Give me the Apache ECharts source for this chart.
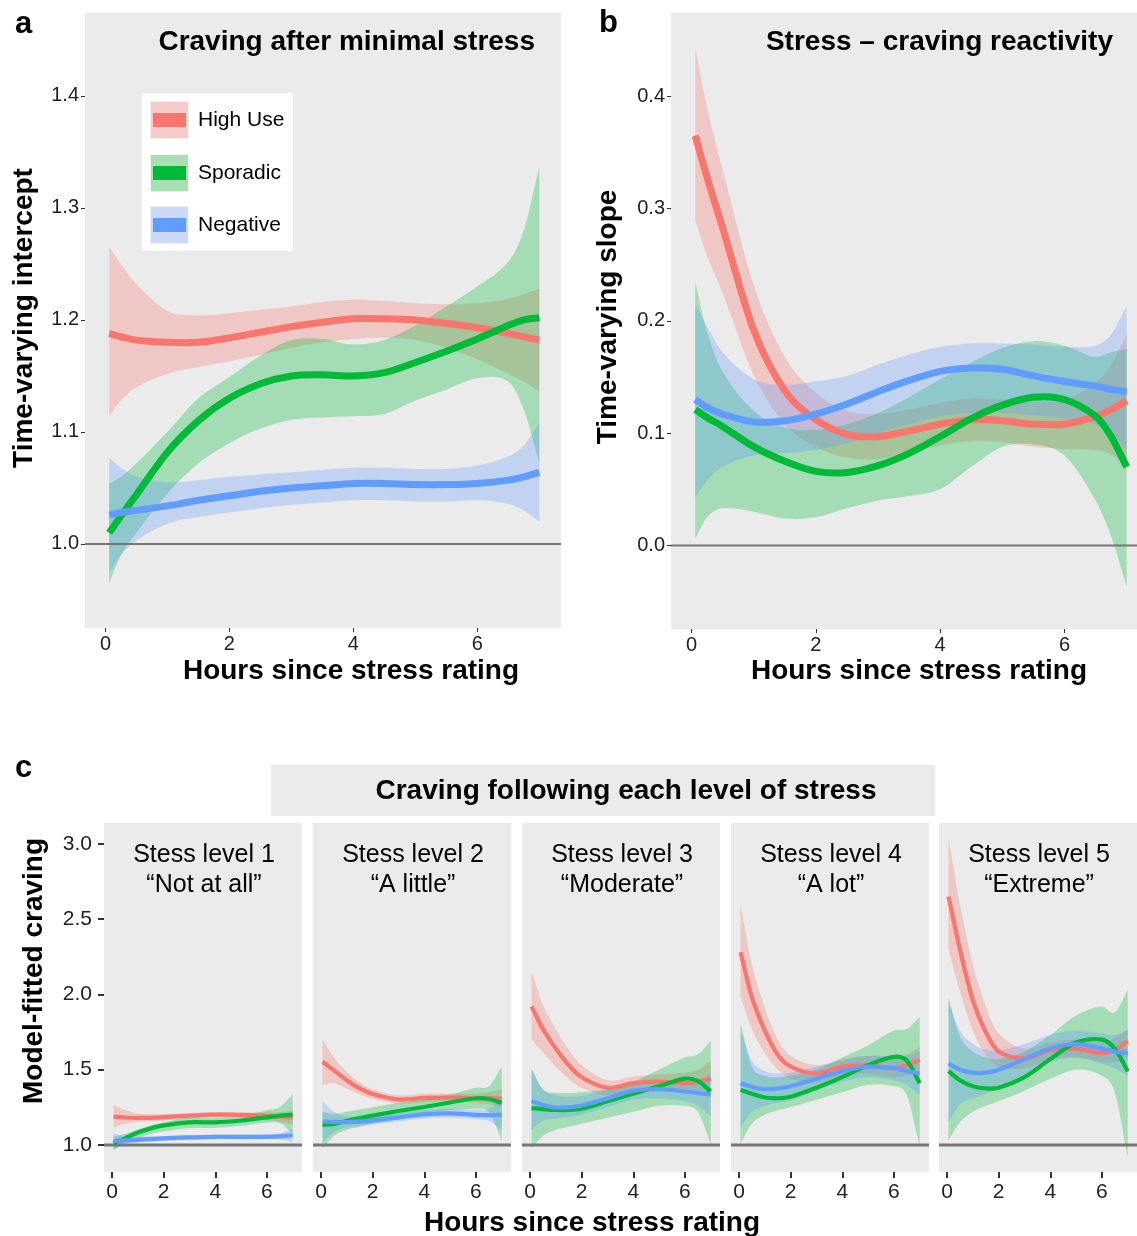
<!DOCTYPE html>
<html><head><meta charset="utf-8">
<script src="https://cdn.jsdelivr.net/npm/echarts@6/dist/echarts.min.js"></script>
<style>html,body{margin:0;padding:0;background:#fff}#c{width:1137px;height:1236px}</style>
</head><body><div id="c"></div>
<script>
const groups = ['High Use', 'Sporadic', 'Negative'];
const colors = ['#F8766D', '#00BA38', '#619CFF'];
const fills = ['rgba(248,118,109,0.3)', 'rgba(0,186,56,0.3)', 'rgba(97,156,255,0.3)'];
const keyFills = ['#F4CDCA', '#A9DFB3', '#C9D9F7'];

const hoursAB = [0.06,0.25,0.5,1,1.5,2,2.5,3,3.5,4,4.5,5,5.5,6,6.5,6.75,7];
const hoursC = [0.06,0.5,1,1.5,2,3,4,5,6,6.5,7];
const hourTicks = [0, 2, 4, 6];
const aTicks = [1.0, 1.1, 1.2, 1.3, 1.4];
const bTicks = [0.0, 0.1, 0.2, 0.3, 0.4];
const cTicks = [1.0, 1.5, 2.0, 2.5, 3.0];

// Panel a: time-varying intercept
const aHighUse   = [1.188,1.185,1.182,1.180,1.180,1.184,1.189,1.194,1.198,1.201,1.201,1.200,1.197,1.193,1.188,1.185,1.182];
const aHighUseLo = [1.114,1.128,1.140,1.152,1.158,1.163,1.169,1.175,1.180,1.183,1.184,1.182,1.175,1.165,1.152,1.145,1.136];
const aHighUseHi = [1.265,1.250,1.232,1.208,1.204,1.206,1.209,1.212,1.216,1.218,1.217,1.215,1.214,1.215,1.219,1.223,1.228];
const aSporadic   = [1.010,1.025,1.044,1.082,1.110,1.130,1.143,1.150,1.151,1.150,1.153,1.162,1.172,1.183,1.195,1.200,1.202];
const aSporadicLo = [0.965,0.990,1.010,1.045,1.072,1.090,1.103,1.111,1.113,1.114,1.116,1.128,1.138,1.148,1.145,1.120,1.072];
const aSporadicHi = [1.054,1.060,1.072,1.100,1.130,1.149,1.168,1.182,1.183,1.178,1.182,1.195,1.212,1.230,1.252,1.280,1.337];
const aNegative   = [1.026,1.028,1.030,1.034,1.039,1.043,1.047,1.050,1.052,1.054,1.054,1.053,1.053,1.054,1.057,1.060,1.064];
const aNegativeLo = [0.975,0.990,1.003,1.018,1.024,1.028,1.032,1.035,1.037,1.039,1.039,1.038,1.038,1.039,1.036,1.030,1.020];
const aNegativeHi = [1.077,1.068,1.060,1.055,1.057,1.060,1.062,1.064,1.066,1.068,1.068,1.067,1.067,1.070,1.078,1.088,1.108];

// Panel b: time-varying slope
const bHighUse   = [0.365,0.328,0.283,0.192,0.138,0.112,0.099,0.097,0.102,0.108,0.112,0.111,0.108,0.108,0.115,0.121,0.129];
const bHighUseLo = [0.290,0.258,0.225,0.152,0.108,0.088,0.078,0.077,0.083,0.089,0.093,0.092,0.088,0.086,0.085,0.081,0.071];
const bHighUseHi = [0.444,0.390,0.335,0.232,0.168,0.136,0.120,0.117,0.121,0.127,0.131,0.130,0.128,0.130,0.145,0.161,0.188];
const bSporadic   = [0.121,0.114,0.106,0.088,0.075,0.066,0.065,0.071,0.082,0.097,0.113,0.125,0.132,0.130,0.115,0.097,0.070];
const bSporadicLo = [0.006,0.025,0.033,0.030,0.024,0.025,0.033,0.040,0.044,0.050,0.070,0.088,0.090,0.080,0.040,0.008,-0.037];
const bSporadicHi = [0.235,0.190,0.155,0.120,0.105,0.103,0.108,0.118,0.132,0.148,0.163,0.176,0.182,0.178,0.168,0.172,0.175];
const bNegative   = [0.130,0.123,0.117,0.110,0.111,0.117,0.126,0.137,0.147,0.155,0.158,0.157,0.151,0.146,0.142,0.139,0.137];
const bNegativeLo = [0.043,0.058,0.070,0.080,0.082,0.085,0.091,0.100,0.108,0.115,0.118,0.118,0.116,0.113,0.108,0.100,0.085];
const bNegativeHi = [0.215,0.195,0.172,0.148,0.143,0.146,0.151,0.161,0.170,0.177,0.180,0.180,0.179,0.177,0.178,0.188,0.213];

// Panel c: model-fitted craving per stress level
const c1HighUse   = [1.188,1.182,1.180,1.180,1.184,1.194,1.201,1.200,1.193,1.188,1.182];
const c1HighUseLo = [1.114,1.140,1.152,1.158,1.163,1.175,1.183,1.182,1.165,1.152,1.136];
const c1HighUseHi = [1.265,1.232,1.208,1.204,1.206,1.212,1.218,1.215,1.215,1.219,1.228];
const c1Sporadic   = [1.010,1.044,1.082,1.110,1.130,1.150,1.150,1.162,1.183,1.195,1.202];
const c1SporadicLo = [0.965,1.010,1.045,1.072,1.090,1.111,1.114,1.128,1.148,1.145,1.072];
const c1SporadicHi = [1.054,1.072,1.100,1.130,1.149,1.182,1.178,1.195,1.230,1.252,1.337];
const c1Negative   = [1.026,1.030,1.034,1.039,1.043,1.050,1.054,1.053,1.054,1.057,1.064];
const c1NegativeLo = [0.975,1.003,1.018,1.024,1.028,1.035,1.039,1.038,1.039,1.036,1.020];
const c1NegativeHi = [1.077,1.060,1.055,1.057,1.060,1.064,1.068,1.067,1.070,1.078,1.108];

const c2HighUse   = [1.553,1.495,1.430,1.375,1.338,1.302,1.312,1.315,1.310,1.310,1.310];
const c2HighUseLo = [1.400,1.410,1.375,1.335,1.305,1.275,1.285,1.290,1.280,1.270,1.250];
const c2HighUseHi = [1.698,1.580,1.485,1.415,1.370,1.330,1.340,1.342,1.340,1.350,1.370];
const c2Sporadic   = [1.133,1.140,1.160,1.178,1.195,1.225,1.252,1.282,1.310,1.305,1.280];
const c2SporadicLo = [0.980,1.060,1.100,1.120,1.140,1.170,1.200,1.230,1.240,1.220,1.030];
const c2SporadicHi = [1.220,1.205,1.220,1.235,1.250,1.280,1.305,1.335,1.380,1.390,1.520];
const c2Negative   = [1.155,1.153,1.152,1.155,1.163,1.183,1.203,1.210,1.200,1.198,1.200];
const c2NegativeLo = [1.020,1.085,1.115,1.125,1.135,1.155,1.175,1.180,1.170,1.160,1.100];
const c2NegativeHi = [1.290,1.220,1.190,1.190,1.195,1.210,1.230,1.240,1.235,1.240,1.300];

const c3HighUse   = [1.920,1.770,1.640,1.530,1.450,1.380,1.410,1.420,1.410,1.420,1.440];
const c3HighUseLo = [1.700,1.615,1.520,1.440,1.380,1.330,1.360,1.370,1.350,1.350,1.330];
const c3HighUseHi = [2.150,1.930,1.770,1.630,1.530,1.430,1.455,1.470,1.480,1.500,1.560];
const c3Sporadic   = [1.245,1.238,1.232,1.232,1.240,1.290,1.340,1.390,1.440,1.425,1.355];
const c3SporadicLo = [0.980,1.060,1.100,1.120,1.140,1.180,1.220,1.260,1.260,1.220,1.010];
const c3SporadicHi = [1.510,1.370,1.345,1.345,1.350,1.370,1.420,1.500,1.580,1.600,1.690];
const c3Negative   = [1.290,1.265,1.248,1.250,1.262,1.310,1.360,1.370,1.355,1.345,1.335];
const c3NegativeLo = [1.100,1.160,1.175,1.185,1.200,1.250,1.300,1.310,1.290,1.260,1.190];
const c3NegativeHi = [1.500,1.370,1.330,1.320,1.325,1.365,1.410,1.420,1.420,1.430,1.480];

const c4HighUse   = [2.280,1.980,1.760,1.600,1.520,1.475,1.520,1.530,1.510,1.530,1.565];
const c4HighUseLo = [1.985,1.770,1.610,1.500,1.440,1.410,1.460,1.470,1.450,1.460,1.480];
const c4HighUseHi = [2.594,2.200,1.910,1.700,1.590,1.530,1.570,1.590,1.580,1.600,1.650];
const c4Sporadic   = [1.365,1.340,1.315,1.310,1.320,1.380,1.450,1.530,1.585,1.560,1.410];
const c4SporadicLo = [1.010,1.140,1.200,1.230,1.250,1.300,1.350,1.400,1.390,1.330,0.990];
const c4SporadicHi = [1.810,1.520,1.460,1.450,1.460,1.500,1.580,1.660,1.760,1.770,1.850];
const c4Negative   = [1.410,1.385,1.370,1.375,1.390,1.440,1.490,1.520,1.510,1.490,1.475];
const c4NegativeLo = [1.120,1.220,1.260,1.280,1.295,1.360,1.420,1.450,1.430,1.400,1.330];
const c4NegativeHi = [1.750,1.560,1.490,1.475,1.480,1.520,1.560,1.590,1.590,1.590,1.620];

const c5HighUse   = [2.650,2.300,1.960,1.750,1.620,1.575,1.630,1.640,1.610,1.630,1.690];
const c5HighUseLo = [2.300,2.020,1.760,1.600,1.520,1.510,1.570,1.580,1.550,1.550,1.580];
const c5HighUseHi = [3.040,2.600,2.200,1.920,1.740,1.640,1.680,1.700,1.680,1.710,1.770];
const c5Sporadic   = [1.490,1.430,1.390,1.375,1.380,1.450,1.570,1.680,1.700,1.640,1.490];
const c5SporadicLo = [1.030,1.150,1.220,1.260,1.290,1.360,1.440,1.500,1.460,1.350,0.920];
const c5SporadicHi = [1.980,1.720,1.620,1.580,1.570,1.620,1.730,1.860,1.920,1.880,2.030];
const c5Negative   = [1.540,1.500,1.480,1.480,1.500,1.570,1.640,1.670,1.640,1.620,1.610];
const c5NegativeLo = [1.150,1.270,1.310,1.340,1.375,1.470,1.550,1.580,1.540,1.510,1.460];
const c5NegativeHi = [1.950,1.760,1.670,1.630,1.625,1.670,1.730,1.760,1.740,1.730,1.760];

const facetTitles = ['Stess level 1\n\u201cNot at all\u201d', 'Stess level 2\n\u201cA little\u201d',
  'Stess level 3\n\u201cModerate\u201d', 'Stess level 4\n\u201cA lot\u201d', 'Stess level 5\n\u201cExtreme\u201d'];

const FONT = '"Liberation Sans", Arial, Helvetica, sans-serif';

// ---------- layout ----------
const facetLefts = [104, 313, 522, 731, 939];
const grids = [
  {left: 85, top: 13, width: 476, height: 615},
  {left: 671, top: 13, width: 466, height: 616}
].concat(facetLefts.map(l => ({left: l, top: 823, width: 198, height: 349})));
grids.forEach(g => { g.show = true; g.backgroundColor = '#EBEBEB'; g.borderWidth = 0; });

function xAxisCfg(gi, min, max, fs, tickLen, tickW, margin) {
  return {
    gridIndex: gi, type: 'value', min: min, max: max, position: 'bottom',
    axisLine: {show: false, onZero: false}, splitLine: {show: false},
    axisTick: {show: true, customValues: hourTicks, length: tickLen, lineStyle: {color: '#333', width: tickW}},
    axisLabel: {show: true, customValues: hourTicks, fontSize: fs, color: '#222', margin: margin, fontFamily: FONT}
  };
}
function yAxisCfg(gi, min, max, ticks, show, fs, tickLen, tickW, margin) {
  return {
    gridIndex: gi, type: 'value', min: min, max: max, position: 'left',
    axisLine: {show: false, onZero: false}, splitLine: {show: false},
    axisTick: {show: show, customValues: ticks, length: tickLen, lineStyle: {color: '#333', width: tickW}},
    axisLabel: {show: show, customValues: ticks, formatter: v => v.toFixed(1), fontSize: fs, color: '#222', margin: margin, fontFamily: FONT}
  };
}

const xAxes = [
  xAxisCfg(0, -0.33, 7.35, 20, 4, 1, 6),
  xAxisCfg(1, -0.33, 7.166, 20, 4, 1, 6)
];
const yAxes = [
  yAxisCfg(0, 0.925, 1.474, aTicks, true, 20, 4, 1, 6),
  yAxisCfg(1, -0.0745, 0.4744, bTicks, true, 20, 4, 1, 6)
];
for (let f = 0; f < 5; f++) {
  xAxes.push(xAxisCfg(2 + f, -0.31, 7.36, 21, 6, 2, 10));
  yAxes.push(yAxisCfg(2 + f, 0.82, 3.139, cTicks, f === 0, 21, 6, 2, 12));
}

// ---------- smooth path through pixel points (cubic Hermite in x) ----------
function slopes(p) {
  const n = p.length, m = [];
  for (let i = 0; i < n; i++) {
    const a = p[Math.max(0, i - 1)], b = p[Math.min(n - 1, i + 1)];
    m.push((b[1] - a[1]) / (b[0] - a[0]));
  }
  return m;
}
function splineCmds(p) {
  const m = slopes(p);
  let d = '';
  for (let i = 0; i < p.length - 1; i++) {
    const h = p[i + 1][0] - p[i][0];
    const c1x = p[i][0] + h / 3, c1y = p[i][1] + m[i] * h / 3;
    const c2x = p[i + 1][0] - h / 3, c2y = p[i + 1][1] - m[i + 1] * h / 3;
    d += ' C' + c1x.toFixed(2) + ' ' + c1y.toFixed(2) + ' ' + c2x.toFixed(2) + ' ' + c2y.toFixed(2) + ' ' +
      p[i + 1][0].toFixed(2) + ' ' + p[i + 1][1].toFixed(2);
  }
  return d;
}

// ---------- series ----------
const ribbons = [], refs = [], lines = [];
function addPanel(gi, xs, sets, lw, ref) {
  sets.forEach((s, k) => {
    const [mid, lo, hi] = s;
    ribbons.push({
      type: 'custom', coordinateSystem: 'cartesian2d', xAxisIndex: gi, yAxisIndex: gi,
      data: xs.map((x, i) => [x, lo[i], hi[i]]), encode: {x: 0, y: [1, 2]},
      silent: true, z: 2,
      renderItem: function (params, api) {
        if (params.dataIndex !== 0) return null;
        const up = xs.map((x, i) => api.coord([x, hi[i]]));
        const dn = xs.map((x, i) => api.coord([x, lo[i]])).reverse();
        const d = 'M' + up[0][0].toFixed(2) + ' ' + up[0][1].toFixed(2) + splineCmds(up) +
          ' L' + dn[0][0].toFixed(2) + ' ' + dn[0][1].toFixed(2) + splineCmds(dn) + ' Z';
        return {type: 'path', shape: {pathData: d}, style: {fill: fills[k], stroke: null}};
      }
    });
    lines.push({
      type: 'custom', name: groups[k], coordinateSystem: 'cartesian2d', xAxisIndex: gi, yAxisIndex: gi,
      data: xs.map((x, i) => [x, mid[i]]), encode: {x: 0, y: 1},
      silent: true, z: 4,
      renderItem: function (params, api) {
        if (params.dataIndex !== 0) return null;
        const p = xs.map((x, i) => api.coord([x, mid[i]]));
        const d = 'M' + p[0][0].toFixed(2) + ' ' + p[0][1].toFixed(2) + splineCmds(p);
        return {type: 'path', shape: {pathData: d},
          style: {fill: 'none', stroke: colors[k], lineWidth: lw, lineCap: 'butt', lineJoin: 'round'}};
      }
    });
  });
  refs.push({
    type: 'custom', coordinateSystem: 'cartesian2d', xAxisIndex: gi, yAxisIndex: gi,
    data: [[0, ref]], encode: {x: 0, y: 1}, silent: true, z: 3,
    renderItem: function (params, api) {
      const cs = params.coordSys;
      const y = api.coord([0, ref])[1];
      return {type: 'line', shape: {x1: cs.x, y1: y, x2: cs.x + cs.width, y2: y},
        style: {stroke: '#777', lineWidth: gi < 2 ? 2 : 3}};
    }
  });
}

addPanel(0, hoursAB, [[aHighUse, aHighUseLo, aHighUseHi], [aSporadic, aSporadicLo, aSporadicHi], [aNegative, aNegativeLo, aNegativeHi]], 7, 1.0);
addPanel(1, hoursAB, [[bHighUse, bHighUseLo, bHighUseHi], [bSporadic, bSporadicLo, bSporadicHi], [bNegative, bNegativeLo, bNegativeHi]], 7, 0.0);
addPanel(2, hoursC, [[c1HighUse, c1HighUseLo, c1HighUseHi], [c1Sporadic, c1SporadicLo, c1SporadicHi], [c1Negative, c1NegativeLo, c1NegativeHi]], 4.2, 1.0);
addPanel(3, hoursC, [[c2HighUse, c2HighUseLo, c2HighUseHi], [c2Sporadic, c2SporadicLo, c2SporadicHi], [c2Negative, c2NegativeLo, c2NegativeHi]], 4.2, 1.0);
addPanel(4, hoursC, [[c3HighUse, c3HighUseLo, c3HighUseHi], [c3Sporadic, c3SporadicLo, c3SporadicHi], [c3Negative, c3NegativeLo, c3NegativeHi]], 4.2, 1.0);
addPanel(5, hoursC, [[c4HighUse, c4HighUseLo, c4HighUseHi], [c4Sporadic, c4SporadicLo, c4SporadicHi], [c4Negative, c4NegativeLo, c4NegativeHi]], 4.2, 1.0);
addPanel(6, hoursC, [[c5HighUse, c5HighUseLo, c5HighUseHi], [c5Sporadic, c5SporadicLo, c5SporadicHi], [c5Negative, c5NegativeLo, c5NegativeHi]], 4.2, 1.0);

// ---------- text & legend ----------
const BOLD28 = 'bold 28px ' + FONT;
function txt(text, x, y, font, align, rot) {
  const el = {type: 'text', z: 100, x: x, y: y,
    style: {text: text, x: 0, y: 0, font: font, fill: '#000', textAlign: align || 'center', textVerticalAlign: 'middle'}};
  if (rot) el.rotation = rot;
  return el;
}
const graphics = [
  txt('a', 15, 24, 'bold 31px ' + FONT, 'left'),
  txt('b', 599, 23, 'bold 31px ' + FONT, 'left'),
  txt('c', 15, 768, 'bold 31px ' + FONT, 'left'),
  txt('Craving after minimal stress', 535, 42, BOLD28, 'right'),
  txt('Stress \u2013 craving reactivity', 1113, 42, BOLD28, 'right'),
  txt('Hours since stress rating', 351, 671, BOLD28, 'center'),
  txt('Hours since stress rating', 919, 671, BOLD28, 'center'),
  txt('Time-varying intercept', 24, 318, BOLD28, 'center', Math.PI / 2),
  txt('Time-varying slope', 608, 317, BOLD28, 'center', Math.PI / 2),
  txt('Model-fitted craving', 34, 971, BOLD28, 'center', Math.PI / 2),
  txt('Hours since stress rating', 592, 1223, BOLD28, 'center'),
  {type: 'rect', z: 90, shape: {x: 271, y: 765, width: 664, height: 51}, style: {fill: '#EBEBEB'}},
  txt('Craving following each level of stress', 626, 791, BOLD28, 'center')
];
facetLefts.forEach((l, f) => {
  graphics.push({type: 'text', z: 100, x: l + 100, y: 870,
    style: {text: facetTitles[f], x: 0, y: 0, font: '25px ' + FONT, fill: '#000', textAlign: 'center',
      textVerticalAlign: 'middle', lineHeight: 30}});
});
// legend box
graphics.push({type: 'rect', z: 95, shape: {x: 142, y: 93, width: 151, height: 158}, style: {fill: '#fff'}});
const keyTops = [101, 154, 206];
groups.forEach((g, k) => {
  const t = keyTops[k];
  graphics.push({type: 'rect', z: 96, shape: {x: 150, y: t, width: 39, height: 38}, style: {fill: '#F2F2F2'}});
  graphics.push({type: 'rect', z: 97, shape: {x: 151, y: t + 1, width: 37, height: 36}, style: {fill: keyFills[k]}});
  graphics.push({type: 'rect', z: 98, shape: {x: 153, y: t + 12, width: 33, height: 14}, style: {fill: colors[k]}});
  graphics.push(txt(g, 198, t + 19, '21px ' + FONT, 'left'));
});

const chart = echarts.init(document.getElementById('c'), null, {renderer: 'canvas'});
chart.setOption({
  animation: false,
  textStyle: {fontFamily: FONT},
  grid: grids,
  xAxis: xAxes,
  yAxis: yAxes,
  series: ribbons.concat(refs, lines),
  graphic: {elements: graphics}
});
</script></body></html>
